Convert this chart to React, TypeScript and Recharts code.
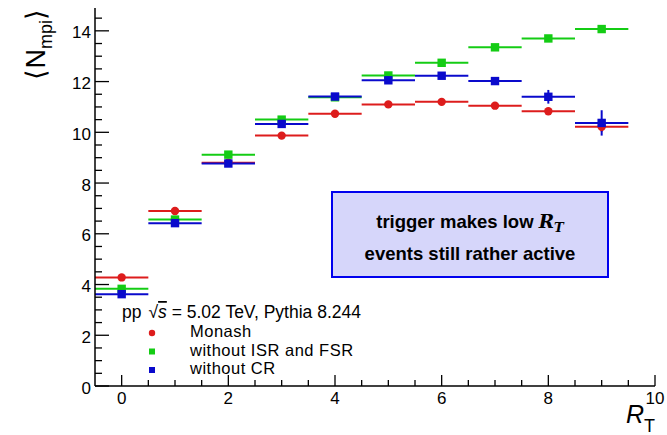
import React from 'react';
import { ComposedChart, Scatter, XAxis, YAxis, ErrorBar } from 'recharts';

// R_T bins (centres) and half bin widths
const rtBins = [0, 1, 2, 3, 4, 5, 6, 7, 8, 9];
const binHalfWidth = [0.5, 0.5, 0.5, 0.5, 0.5, 0.5, 0.5, 0.5, 0.5, 0.5];

// <N_mpi> per tune
const monash = [4.28, 6.9, 8.8, 9.87, 10.73, 11.1, 11.2, 11.05, 10.83, 10.22];
const monashErr = [0.02, 0.03, 0.03, 0.03, 0.03, 0.04, 0.04, 0.05, 0.08, 0.2];
const noIsrFsr = [3.83, 6.56, 9.12, 10.5, 11.38, 12.24, 12.74, 13.35, 13.7, 14.07];
const noIsrFsrErr = [0.02, 0.03, 0.03, 0.03, 0.03, 0.04, 0.04, 0.05, 0.06, 0.08];
const noCr = [3.62, 6.42, 8.77, 10.33, 11.41, 12.05, 12.23, 12.02, 11.4, 10.37];
const noCrErr = [0.02, 0.03, 0.03, 0.03, 0.04, 0.05, 0.06, 0.08, 0.27, 0.5];

const xTicks = [0, 0.5, 1, 1.5, 2, 2.5, 3, 3.5, 4, 4.5, 5, 5.5, 6, 6.5, 7, 7.5, 8, 8.5, 9, 9.5, 10];
const xMajor = [0, 2, 4, 6, 8, 10];
const yTicks = [0, 0.5, 1, 1.5, 2, 2.5, 3, 3.5, 4, 4.5, 5, 5.5, 6, 6.5, 7, 7.5, 8, 8.5, 9, 9.5, 10, 10.5, 11, 11.5, 12, 12.5, 13, 13.5, 14, 14.5];
const yMajor = [0, 2, 4, 6, 8, 10, 12, 14];

const RED = '#dd1c1c';
const GREEN = '#14cc14';
const BLUE = '#0a0acc';
const FONT = '"Liberation Sans", Arial, sans-serif';
const SERIF = '"DejaVu Serif", "Liberation Serif", serif';

const toPoints = (ys: number[], errs: number[]) =>
  rtBins.map((x, i) => ({ x, y: ys[i], ex: binHalfWidth[i], ey: errs[i] }));

const circle = (color: string) => (p: any) => <circle cx={p.cx} cy={p.cy} r={4.2} fill={color} />;
const square = (color: string) => (p: any) => (
  <rect x={p.cx - 4.2} y={p.cy - 4.2} width={8.4} height={8.4} fill={color} />
);

const BottomTick = (p: any) => {
  const major = xMajor.includes(p.payload.value);
  return (
    <g>
      <line x1={p.x} y1={p.y} x2={p.x} y2={p.y - (major ? 11 : 6)} stroke="#000" strokeWidth={1.3} />
      {major && (
        <text x={p.x} y={p.y + 18} textAnchor="middle" fontSize={17} fontFamily={FONT} fill="#000">
          {p.payload.value}
        </text>
      )}
    </g>
  );
};

const TopTick = (p: any) => {
  const major = xMajor.includes(p.payload.value);
  return <line x1={p.x} y1={p.y} x2={p.x} y2={p.y + (major ? 11 : 6)} stroke="#000" strokeWidth={1.3} />;
};

const LeftTick = (p: any) => {
  const major = yMajor.includes(p.payload.value);
  return (
    <g>
      <line x1={p.x} y1={p.y} x2={p.x + (major ? 14 : 7)} y2={p.y} stroke="#000" strokeWidth={1.3} />
      {major && (
        <text x={p.x - 4} y={p.y + 7.5} textAnchor="end" fontSize={17} fontFamily={FONT} fill="#000">
          {p.payload.value}
        </text>
      )}
    </g>
  );
};

const RightTick = (p: any) => {
  const major = yMajor.includes(p.payload.value);
  return <line x1={p.x} y1={p.y} x2={p.x - (major ? 14 : 7)} y2={p.y} stroke="#000" strokeWidth={1.3} />;
};

const series = [
  { name: 'Monash', data: toPoints(monash, monashErr), color: RED, shape: circle(RED) },
  { name: 'without ISR and FSR', data: toPoints(noIsrFsr, noIsrFsrErr), color: GREEN, shape: square(GREEN) },
  { name: 'without CR', data: toPoints(noCr, noCrErr), color: BLUE, shape: square(BLUE) },
];

export default function App() {
  return (
    <div style={{ position: 'absolute', left: 0, top: 0, width: 667, height: 435, background: '#fff' }}>
      <ComposedChart width={667} height={435} margin={{ top: 8, right: 12, bottom: 0, left: 0 }}>
        <XAxis
          xAxisId={0}
          dataKey="x"
          type="number"
          domain={[-0.5, 10]}
          allowDataOverflow
          ticks={xTicks}
          interval={0}
          height={49}
          tickSize={0}
          tickMargin={0}
          tick={BottomTick}
          axisLine={{ stroke: '#000', strokeWidth: 1.5 }}
        />
        <XAxis
          xAxisId="top"
          orientation="top"
          type="number"
          domain={[-0.5, 10]}
          allowDataOverflow
          ticks={xTicks}
          interval={0}
          height={0}
          tickSize={0}
          tickMargin={0}
          tick={TopTick}
          axisLine={{ stroke: '#000', strokeWidth: 1.5 }}
        />
        <YAxis
          yAxisId={0}
          dataKey="y"
          type="number"
          domain={[0, 14.9]}
          allowDataOverflow
          ticks={yTicks}
          interval={0}
          width={95}
          tickSize={0}
          tickMargin={0}
          tick={LeftTick}
          axisLine={{ stroke: '#000', strokeWidth: 1.5 }}
        />
        <YAxis
          yAxisId="right"
          orientation="right"
          type="number"
          domain={[0, 14.9]}
          allowDataOverflow
          ticks={yTicks}
          interval={0}
          width={0}
          tickSize={0}
          tickMargin={0}
          tick={RightTick}
          axisLine={{ stroke: '#000', strokeWidth: 1.5 }}
        />
        {series.map((s) => (
          <Scatter
            key={s.name}
            name={s.name}
            data={s.data}
            xAxisId={0}
            yAxisId={0}
            fill={s.color}
            shape={s.shape}
            isAnimationActive={false}
          >
            <ErrorBar dataKey="ex" direction="x" width={0} stroke={s.color} strokeWidth={2} />
            <ErrorBar dataKey="ey" direction="y" width={0} stroke={s.color} strokeWidth={2} />
          </Scatter>
        ))}
      </ComposedChart>
      <svg
        width={667}
        height={435}
        style={{ position: 'absolute', left: 0, top: 0, pointerEvents: 'none' }}
        fontFamily={FONT}
      >
        {/* y axis title */}
        <text transform="rotate(-90)" x={-9} y={45} textAnchor="end" fontSize={27} fill="#000">
          ⟨N<tspan fontSize={18} dy={7}>mpi</tspan>
          <tspan dy={-7}>⟩</tspan>
        </text>
        {/* x axis title */}
        <text x={655} y={423} textAnchor="end" fontSize={25} fill="#000">
          <tspan fontStyle="italic">R</tspan>
          <tspan fontSize={18} dy={9}>T</tspan>
        </text>
        {/* legend */}
        <text x={122} y={318} fontSize={17.5} fill="#000">
          pp<tspan dx={7}>√</tspan>
          <tspan fontStyle="italic" textDecoration="overline">s</tspan> = 5.02 TeV, Pythia 8.244
        </text>
        {series.map((s, i) => (
          <g key={s.name}>
            {i === 0 ? (
              <circle cx={152} cy={333 + i * 18.5} r={3.2} fill={s.color} />
            ) : (
              <rect x={149} y={330 + i * 18.5} width={6} height={6} fill={s.color} />
            )}
            <text x={190} y={337 + i * 18.5} fontSize={16.5} letterSpacing={0.5} fill="#000">
              {s.name}
            </text>
          </g>
        ))}
        {/* annotation box */}
        <rect x={332} y={192} width={276} height={85} fill="#d6d6fa" stroke="#0000ee" strokeWidth={2} />
        <text x={470} y={228} textAnchor="middle" fontSize={18.5} fontWeight="bold" fill="#000">
          trigger makes low{' '}
          <tspan fontFamily={SERIF} fontStyle="italic">R</tspan>
          <tspan fontFamily={SERIF} fontStyle="italic" fontSize={13} dy={4}>
            T
          </tspan>
        </text>
        <text x={470} y={260} textAnchor="middle" fontSize={18.5} fontWeight="bold" fill="#000">
          events still rather active
        </text>
      </svg>
    </div>
  );
}
